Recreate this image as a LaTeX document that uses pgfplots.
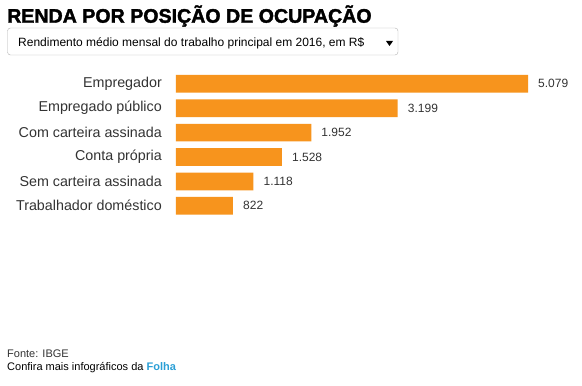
\documentclass[border=0pt]{standalone}
\usepackage{pgfplots}
\pgfplotsset{compat=1.18}
\usepackage{pgfplotstable}
\usepackage{fontspec}
\setmainfont{Liberation Sans}
\newfontfamily\titlefont[BoldFeatures={FakeBold=1.8}]{Liberation Sans}
\definecolor{barorange}{HTML}{F7941D}
\definecolor{txt}{HTML}{333333}
\definecolor{folha}{HTML}{2A9FD6}
\pgfplotstableread{
pos value label
0 5079 5.079
1 3199 3.199
2 1952 1.952
3 1528 1.528
4 1118 1.118
5 822 822
}\data
\begin{document}
\begin{tikzpicture}[x=1pt,y=1pt]
\path[use as bounding box] (0,0) rectangle (582,386);
\fill[white] (0,0) rectangle (582,386);
% title
\node[anchor=base west, inner sep=0pt] at (7,363.3) {\titlefont\bfseries\fontsize{19.6}{22}\selectfont RENDA POR POSIÇÃO DE OCUPAÇÃO};
% dropdown
\draw[black!30, rounded corners=3pt] (7.5,358) rectangle (398,331);
\node[anchor=base west, inner sep=0pt, text=black] at (18,339.3) {\fontsize{12}{14}\selectfont Rendimento médio mensal do trabalho principal em 2016, em R\$};
\fill[black] (386,345) -- (393,345) -- (389.5,340) -- cycle;
% footer
\node[anchor=base west, inner sep=0pt, text=txt] at (7,28) {\fontsize{11}{13}\selectfont Fonte: IBGE};
\node[anchor=base west, inner sep=0pt, text=black] at (7,15) {\fontsize{11}{13}\selectfont Confira mais infográficos da \textcolor{folha}{\bfseries Folha}};
\begin{axis}[
  at={(176pt,168pt)}, anchor=south west,
  scale only axis, width=352pt, height=146.4pt,
  xmin=0, xmax=5079,
  ymin=-0.5, ymax=5.5, y dir=reverse,
  xbar, bar width=17.7pt, bar shift=0pt,
  axis line style={draw=none},
  xtick=\empty,
  ytick={0,1,2,3,4,5},
  yticklabels={Empregador, Empregado público, Com carteira assinada, Conta própria, Sem carteira assinada, Trabalhador doméstico},
  major tick length=0pt,
  yticklabel style={font=\fontsize{14.3}{16}\selectfont, text=txt, inner sep=0pt, xshift=-14pt},
  nodes near coords,
  point meta=explicit symbolic,
  every node near coord/.append style={font=\fontsize{12}{14}\selectfont, text=txt, anchor=west, inner sep=0pt, xshift=10pt},
  clip=false,
]
\addplot[fill=barorange, draw=none] table[x=value, y=pos, meta=label] {\data};
\end{axis}
\end{tikzpicture}
\end{document}
